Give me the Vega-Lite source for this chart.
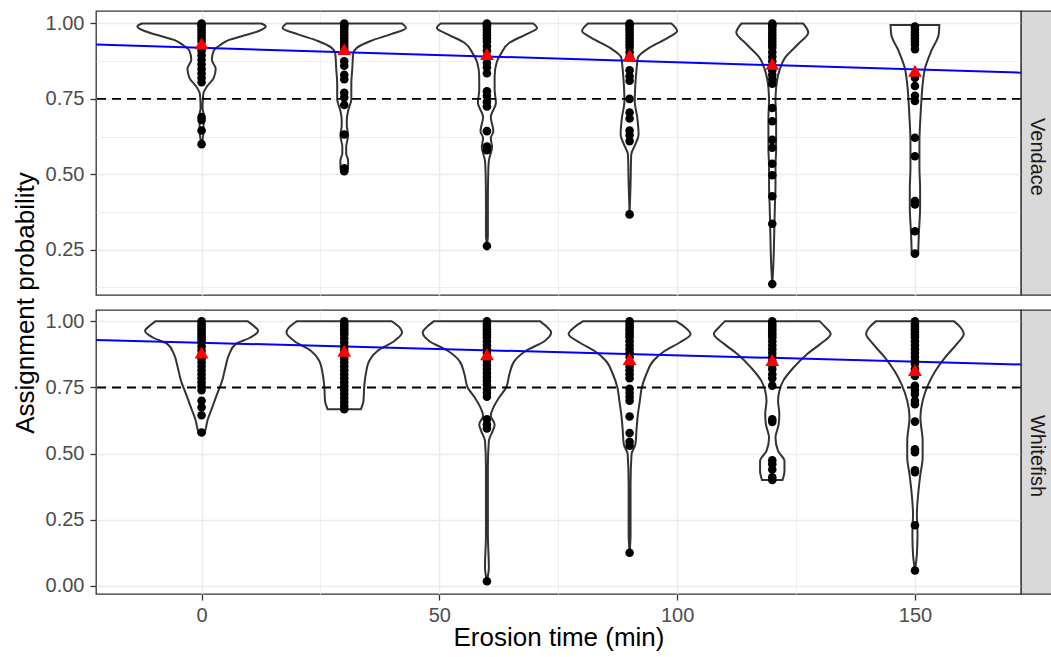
{
"$schema": "https://vega.github.io/schema/vega-lite/v6.json",
"padding": {"left": 11, "top": 10, "right": 0, "bottom": 0},
"config": {
 "font": "Liberation Sans",
 "view": {"stroke": "#333333", "strokeWidth": 1.3},
 "axis": {"domain": false, "gridColor": "#ebebeb", "tickColor": "#333333", "tickSize": 6, "tickWidth": 1.3, "labelColor": "#4d4d4d", "labelFont": "Liberation Sans", "labelFontSize": 20, "titleFont": "Liberation Sans", "titleFontSize": 26, "titleFontWeight": "normal", "titleColor": "#000000", "labelOverlap": false, "labelFlush": false},
 "axisX": {"labelPadding": 5},
 "axisY": {"labelPadding": 6}
},
"datasets": {
 "fit": [{"t": -30, "p": 0.9337}, {"t": 180, "p": 0.8332}],
 "means": [
  {"s":"V","t":0,"p":0.934},{"s":"V","t":30,"p":0.915},{"s":"V","t":60,"p":0.899},{"s":"V","t":90,"p":0.895},{"s":"V","t":120,"p":0.866},{"s":"V","t":150,"p":0.843},
  {"s":"W","t":0,"p":0.882},{"s":"W","t":30,"p":0.889},{"s":"W","t":60,"p":0.876},{"s":"W","t":90,"p":0.858},{"s":"W","t":120,"p":0.854},{"s":"W","t":150,"p":0.816}
 ],
 "vio": [
  {"s":"V","t":0,"p":0.60,"w":0},{"s":"V","t":0,"p":0.63,"w":0.025},{"s":"V","t":0,"p":0.66,"w":0.03},{"s":"V","t":0,"p":0.69,"w":0.04},{"s":"V","t":0,"p":0.72,"w":0.015},{"s":"V","t":0,"p":0.75,"w":0.02},{"s":"V","t":0,"p":0.77,"w":0.03},{"s":"V","t":0,"p":0.79,"w":0.08},{"s":"V","t":0,"p":0.82,"w":0.19},{"s":"V","t":0,"p":0.85,"w":0.22},{"s":"V","t":0,"p":0.88,"w":0.16},{"s":"V","t":0,"p":0.91,"w":0.19},{"s":"V","t":0,"p":0.93,"w":0.30},{"s":"V","t":0,"p":0.945,"w":0.42},{"s":"V","t":0,"p":0.96,"w":0.66},{"s":"V","t":0,"p":0.975,"w":0.89},{"s":"V","t":0,"p":0.99,"w":1.0},{"s":"V","t":0,"p":1.0,"w":0.93},
  {"s":"V","t":30,"p":0.51,"w":0.05},{"s":"V","t":30,"p":0.53,"w":0.06},{"s":"V","t":30,"p":0.545,"w":0.06},{"s":"V","t":30,"p":0.57,"w":0.03},{"s":"V","t":30,"p":0.59,"w":0.03},{"s":"V","t":30,"p":0.63,"w":0.06},{"s":"V","t":30,"p":0.66,"w":0.04},{"s":"V","t":30,"p":0.68,"w":0.04},{"s":"V","t":30,"p":0.71,"w":0.06},{"s":"V","t":30,"p":0.75,"w":0.11},{"s":"V","t":30,"p":0.80,"w":0.11},{"s":"V","t":30,"p":0.85,"w":0.125},{"s":"V","t":30,"p":0.90,"w":0.14},{"s":"V","t":30,"p":0.92,"w":0.2},{"s":"V","t":30,"p":0.942,"w":0.41},{"s":"V","t":30,"p":0.964,"w":0.72},{"s":"V","t":30,"p":0.985,"w":0.96},{"s":"V","t":30,"p":1.0,"w":0.9},
  {"s":"V","t":60,"p":0.262,"w":0},{"s":"V","t":60,"p":0.30,"w":0.015},{"s":"V","t":60,"p":0.41,"w":0.015},{"s":"V","t":60,"p":0.50,"w":0.02},{"s":"V","t":60,"p":0.545,"w":0.03},{"s":"V","t":60,"p":0.59,"w":0.08},{"s":"V","t":60,"p":0.62,"w":0.06},{"s":"V","t":60,"p":0.643,"w":0.1},{"s":"V","t":60,"p":0.69,"w":0.06},{"s":"V","t":60,"p":0.737,"w":0.14},{"s":"V","t":60,"p":0.78,"w":0.12},{"s":"V","t":60,"p":0.825,"w":0.12},{"s":"V","t":60,"p":0.87,"w":0.15},{"s":"V","t":60,"p":0.90,"w":0.22},{"s":"V","t":60,"p":0.936,"w":0.35},{"s":"V","t":60,"p":0.964,"w":0.61},{"s":"V","t":60,"p":0.985,"w":0.78},{"s":"V","t":60,"p":1.0,"w":0.72},
  {"s":"V","t":90,"p":0.367,"w":0},{"s":"V","t":90,"p":0.467,"w":0.015},{"s":"V","t":90,"p":0.565,"w":0.025},{"s":"V","t":90,"p":0.60,"w":0.09},{"s":"V","t":90,"p":0.632,"w":0.14},{"s":"V","t":90,"p":0.687,"w":0.12},{"s":"V","t":90,"p":0.743,"w":0.08},{"s":"V","t":90,"p":0.798,"w":0.09},{"s":"V","t":90,"p":0.853,"w":0.11},{"s":"V","t":90,"p":0.887,"w":0.13},{"s":"V","t":90,"p":0.92,"w":0.31},{"s":"V","t":90,"p":0.953,"w":0.6},{"s":"V","t":90,"p":0.975,"w":0.74},{"s":"V","t":90,"p":1.0,"w":0.65},
  {"s":"V","t":120,"p":0.136,"w":0},{"s":"V","t":120,"p":0.19,"w":0.015},{"s":"V","t":120,"p":0.30,"w":0.03},{"s":"V","t":120,"p":0.39,"w":0.04},{"s":"V","t":120,"p":0.46,"w":0.05},{"s":"V","t":120,"p":0.53,"w":0.05},{"s":"V","t":120,"p":0.58,"w":0.06},{"s":"V","t":120,"p":0.69,"w":0.06},{"s":"V","t":120,"p":0.743,"w":0.05},{"s":"V","t":120,"p":0.787,"w":0.06},{"s":"V","t":120,"p":0.843,"w":0.11},{"s":"V","t":120,"p":0.887,"w":0.2},{"s":"V","t":120,"p":0.931,"w":0.4},{"s":"V","t":120,"p":0.97,"w":0.56},{"s":"V","t":120,"p":1.0,"w":0.48},
  {"s":"V","t":150,"p":0.237,"w":0.05},{"s":"V","t":150,"p":0.30,"w":0.06},{"s":"V","t":150,"p":0.39,"w":0.08},{"s":"V","t":150,"p":0.455,"w":0.08},{"s":"V","t":150,"p":0.52,"w":0.07},{"s":"V","t":150,"p":0.61,"w":0.07},{"s":"V","t":150,"p":0.687,"w":0.085},{"s":"V","t":150,"p":0.743,"w":0.1},{"s":"V","t":150,"p":0.798,"w":0.12},{"s":"V","t":150,"p":0.854,"w":0.16},{"s":"V","t":150,"p":0.909,"w":0.255},{"s":"V","t":150,"p":0.964,"w":0.37},{"s":"V","t":150,"p":0.995,"w":0.38},
  {"s":"W","t":0,"p":0.579,"w":0.05},{"s":"W","t":0,"p":0.60,"w":0.07},{"s":"W","t":0,"p":0.623,"w":0.09},{"s":"W","t":0,"p":0.674,"w":0.165},{"s":"W","t":0,"p":0.724,"w":0.24},{"s":"W","t":0,"p":0.775,"w":0.32},{"s":"W","t":0,"p":0.825,"w":0.37},{"s":"W","t":0,"p":0.876,"w":0.43},{"s":"W","t":0,"p":0.914,"w":0.53},{"s":"W","t":0,"p":0.939,"w":0.76},{"s":"W","t":0,"p":0.964,"w":0.88},{"s":"W","t":0,"p":0.985,"w":0.8},{"s":"W","t":0,"p":1.0,"w":0.72},
  {"s":"W","t":30,"p":0.668,"w":0.26},{"s":"W","t":30,"p":0.70,"w":0.3},{"s":"W","t":30,"p":0.75,"w":0.31},{"s":"W","t":30,"p":0.80,"w":0.335},{"s":"W","t":30,"p":0.851,"w":0.39},{"s":"W","t":30,"p":0.889,"w":0.52},{"s":"W","t":30,"p":0.926,"w":0.78},{"s":"W","t":30,"p":0.958,"w":0.9},{"s":"W","t":30,"p":0.98,"w":0.85},{"s":"W","t":30,"p":1.0,"w":0.74},
  {"s":"W","t":60,"p":0.017,"w":0},{"s":"W","t":60,"p":0.069,"w":0.03},{"s":"W","t":60,"p":0.195,"w":0.015},{"s":"W","t":60,"p":0.447,"w":0.015},{"s":"W","t":60,"p":0.548,"w":0.03},{"s":"W","t":60,"p":0.586,"w":0.09},{"s":"W","t":60,"p":0.61,"w":0.12},{"s":"W","t":60,"p":0.643,"w":0.06},{"s":"W","t":60,"p":0.674,"w":0.1},{"s":"W","t":60,"p":0.712,"w":0.19},{"s":"W","t":60,"p":0.75,"w":0.3},{"s":"W","t":60,"p":0.80,"w":0.35},{"s":"W","t":60,"p":0.851,"w":0.43},{"s":"W","t":60,"p":0.889,"w":0.61},{"s":"W","t":60,"p":0.926,"w":0.9},{"s":"W","t":60,"p":0.958,"w":1.0},{"s":"W","t":60,"p":0.98,"w":0.93},{"s":"W","t":60,"p":1.0,"w":0.83},
  {"s":"W","t":90,"p":0.125,"w":0},{"s":"W","t":90,"p":0.195,"w":0.015},{"s":"W","t":90,"p":0.384,"w":0.015},{"s":"W","t":90,"p":0.498,"w":0.03},{"s":"W","t":90,"p":0.535,"w":0.09},{"s":"W","t":90,"p":0.598,"w":0.11},{"s":"W","t":90,"p":0.649,"w":0.13},{"s":"W","t":90,"p":0.70,"w":0.16},{"s":"W","t":90,"p":0.75,"w":0.19},{"s":"W","t":90,"p":0.80,"w":0.26},{"s":"W","t":90,"p":0.851,"w":0.37},{"s":"W","t":90,"p":0.889,"w":0.55},{"s":"W","t":90,"p":0.92,"w":0.78},{"s":"W","t":90,"p":0.952,"w":0.95},{"s":"W","t":90,"p":0.98,"w":0.85},{"s":"W","t":90,"p":1.0,"w":0.73},
  {"s":"W","t":120,"p":0.40,"w":0.16},{"s":"W","t":120,"p":0.434,"w":0.19},{"s":"W","t":120,"p":0.472,"w":0.19},{"s":"W","t":120,"p":0.51,"w":0.09},{"s":"W","t":120,"p":0.56,"w":0.05},{"s":"W","t":120,"p":0.611,"w":0.1},{"s":"W","t":120,"p":0.649,"w":0.11},{"s":"W","t":120,"p":0.70,"w":0.09},{"s":"W","t":120,"p":0.737,"w":0.11},{"s":"W","t":120,"p":0.775,"w":0.17},{"s":"W","t":120,"p":0.825,"w":0.33},{"s":"W","t":120,"p":0.876,"w":0.54},{"s":"W","t":120,"p":0.914,"w":0.745},{"s":"W","t":120,"p":0.952,"w":0.91},{"s":"W","t":120,"p":0.98,"w":0.82},{"s":"W","t":120,"p":1.0,"w":0.74},
  {"s":"W","t":150,"p":0.058,"w":0},{"s":"W","t":150,"p":0.119,"w":0.03},{"s":"W","t":150,"p":0.195,"w":0.04},{"s":"W","t":150,"p":0.27,"w":0.03},{"s":"W","t":150,"p":0.346,"w":0.05},{"s":"W","t":150,"p":0.422,"w":0.085},{"s":"W","t":150,"p":0.485,"w":0.12},{"s":"W","t":150,"p":0.548,"w":0.12},{"s":"W","t":150,"p":0.636,"w":0.085},{"s":"W","t":150,"p":0.70,"w":0.12},{"s":"W","t":150,"p":0.763,"w":0.21},{"s":"W","t":150,"p":0.813,"w":0.32},{"s":"W","t":150,"p":0.864,"w":0.47},{"s":"W","t":150,"p":0.914,"w":0.65},{"s":"W","t":150,"p":0.952,"w":0.76},{"s":"W","t":150,"p":0.98,"w":0.7},{"s":"W","t":150,"p":1.0,"w":0.61}
 ],
 "pts": [
  {"s":"V","t":0,"p":1.0},{"s":"V","t":0,"p":0.995},{"s":"V","t":0,"p":0.99},{"s":"V","t":0,"p":0.98},{"s":"V","t":0,"p":0.97},{"s":"V","t":0,"p":0.96},{"s":"V","t":0,"p":0.95},{"s":"V","t":0,"p":0.94},{"s":"V","t":0,"p":0.925},{"s":"V","t":0,"p":0.91},{"s":"V","t":0,"p":0.895},{"s":"V","t":0,"p":0.88},{"s":"V","t":0,"p":0.865},{"s":"V","t":0,"p":0.85},{"s":"V","t":0,"p":0.835},{"s":"V","t":0,"p":0.82},{"s":"V","t":0,"p":0.805},{"s":"V","t":0,"p":0.69},{"s":"V","t":0,"p":0.68},{"s":"V","t":0,"p":0.645},{"s":"V","t":0,"p":0.60},
  {"s":"V","t":30,"p":1.0},{"s":"V","t":30,"p":0.995},{"s":"V","t":30,"p":0.99},{"s":"V","t":30,"p":0.98},{"s":"V","t":30,"p":0.97},{"s":"V","t":30,"p":0.96},{"s":"V","t":30,"p":0.95},{"s":"V","t":30,"p":0.94},{"s":"V","t":30,"p":0.93},{"s":"V","t":30,"p":0.92},{"s":"V","t":30,"p":0.91},{"s":"V","t":30,"p":0.875},{"s":"V","t":30,"p":0.86},{"s":"V","t":30,"p":0.83},{"s":"V","t":30,"p":0.815},{"s":"V","t":30,"p":0.77},{"s":"V","t":30,"p":0.755},{"s":"V","t":30,"p":0.73},{"s":"V","t":30,"p":0.632},{"s":"V","t":30,"p":0.52},{"s":"V","t":30,"p":0.51},
  {"s":"V","t":60,"p":1.0},{"s":"V","t":60,"p":0.995},{"s":"V","t":60,"p":0.99},{"s":"V","t":60,"p":0.98},{"s":"V","t":60,"p":0.97},{"s":"V","t":60,"p":0.96},{"s":"V","t":60,"p":0.95},{"s":"V","t":60,"p":0.94},{"s":"V","t":60,"p":0.925},{"s":"V","t":60,"p":0.91},{"s":"V","t":60,"p":0.89},{"s":"V","t":60,"p":0.87},{"s":"V","t":60,"p":0.855},{"s":"V","t":60,"p":0.835},{"s":"V","t":60,"p":0.775},{"s":"V","t":60,"p":0.76},{"s":"V","t":60,"p":0.74},{"s":"V","t":60,"p":0.725},{"s":"V","t":60,"p":0.643},{"s":"V","t":60,"p":0.592},{"s":"V","t":60,"p":0.58},{"s":"V","t":60,"p":0.262},
  {"s":"V","t":90,"p":1.0},{"s":"V","t":90,"p":0.995},{"s":"V","t":90,"p":0.99},{"s":"V","t":90,"p":0.98},{"s":"V","t":90,"p":0.97},{"s":"V","t":90,"p":0.96},{"s":"V","t":90,"p":0.95},{"s":"V","t":90,"p":0.94},{"s":"V","t":90,"p":0.93},{"s":"V","t":90,"p":0.92},{"s":"V","t":90,"p":0.905},{"s":"V","t":90,"p":0.89},{"s":"V","t":90,"p":0.845},{"s":"V","t":90,"p":0.825},{"s":"V","t":90,"p":0.81},{"s":"V","t":90,"p":0.75},{"s":"V","t":90,"p":0.705},{"s":"V","t":90,"p":0.685},{"s":"V","t":90,"p":0.645},{"s":"V","t":90,"p":0.63},{"s":"V","t":90,"p":0.61},{"s":"V","t":90,"p":0.367},
  {"s":"V","t":120,"p":1.0},{"s":"V","t":120,"p":0.995},{"s":"V","t":120,"p":0.99},{"s":"V","t":120,"p":0.98},{"s":"V","t":120,"p":0.97},{"s":"V","t":120,"p":0.96},{"s":"V","t":120,"p":0.95},{"s":"V","t":120,"p":0.94},{"s":"V","t":120,"p":0.93},{"s":"V","t":120,"p":0.92},{"s":"V","t":120,"p":0.905},{"s":"V","t":120,"p":0.89},{"s":"V","t":120,"p":0.875},{"s":"V","t":120,"p":0.86},{"s":"V","t":120,"p":0.845},{"s":"V","t":120,"p":0.83},{"s":"V","t":120,"p":0.815},{"s":"V","t":120,"p":0.80},{"s":"V","t":120,"p":0.72},{"s":"V","t":120,"p":0.676},{"s":"V","t":120,"p":0.614},{"s":"V","t":120,"p":0.588},{"s":"V","t":120,"p":0.535},{"s":"V","t":120,"p":0.497},{"s":"V","t":120,"p":0.427},{"s":"V","t":120,"p":0.336},{"s":"V","t":120,"p":0.136},
  {"s":"V","t":150,"p":0.99},{"s":"V","t":150,"p":0.98},{"s":"V","t":150,"p":0.97},{"s":"V","t":150,"p":0.96},{"s":"V","t":150,"p":0.95},{"s":"V","t":150,"p":0.94},{"s":"V","t":150,"p":0.93},{"s":"V","t":150,"p":0.915},{"s":"V","t":150,"p":0.82},{"s":"V","t":150,"p":0.793},{"s":"V","t":150,"p":0.76},{"s":"V","t":150,"p":0.743},{"s":"V","t":150,"p":0.621},{"s":"V","t":150,"p":0.56},{"s":"V","t":150,"p":0.411},{"s":"V","t":150,"p":0.40},{"s":"V","t":150,"p":0.311},{"s":"V","t":150,"p":0.237},
  {"s":"W","t":0,"p":1.0},{"s":"W","t":0,"p":0.99},{"s":"W","t":0,"p":0.98},{"s":"W","t":0,"p":0.97},{"s":"W","t":0,"p":0.96},{"s":"W","t":0,"p":0.95},{"s":"W","t":0,"p":0.94},{"s":"W","t":0,"p":0.93},{"s":"W","t":0,"p":0.92},{"s":"W","t":0,"p":0.905},{"s":"W","t":0,"p":0.89},{"s":"W","t":0,"p":0.875},{"s":"W","t":0,"p":0.86},{"s":"W","t":0,"p":0.845},{"s":"W","t":0,"p":0.83},{"s":"W","t":0,"p":0.815},{"s":"W","t":0,"p":0.80},{"s":"W","t":0,"p":0.785},{"s":"W","t":0,"p":0.77},{"s":"W","t":0,"p":0.755},{"s":"W","t":0,"p":0.74},{"s":"W","t":0,"p":0.70},{"s":"W","t":0,"p":0.675},{"s":"W","t":0,"p":0.645},{"s":"W","t":0,"p":0.58},
  {"s":"W","t":30,"p":1.0},{"s":"W","t":30,"p":0.99},{"s":"W","t":30,"p":0.98},{"s":"W","t":30,"p":0.97},{"s":"W","t":30,"p":0.96},{"s":"W","t":30,"p":0.95},{"s":"W","t":30,"p":0.935},{"s":"W","t":30,"p":0.92},{"s":"W","t":30,"p":0.905},{"s":"W","t":30,"p":0.89},{"s":"W","t":30,"p":0.875},{"s":"W","t":30,"p":0.86},{"s":"W","t":30,"p":0.845},{"s":"W","t":30,"p":0.83},{"s":"W","t":30,"p":0.815},{"s":"W","t":30,"p":0.80},{"s":"W","t":30,"p":0.785},{"s":"W","t":30,"p":0.77},{"s":"W","t":30,"p":0.755},{"s":"W","t":30,"p":0.74},{"s":"W","t":30,"p":0.725},{"s":"W","t":30,"p":0.71},{"s":"W","t":30,"p":0.695},{"s":"W","t":30,"p":0.68},{"s":"W","t":30,"p":0.668},
  {"s":"W","t":60,"p":1.0},{"s":"W","t":60,"p":0.99},{"s":"W","t":60,"p":0.98},{"s":"W","t":60,"p":0.97},{"s":"W","t":60,"p":0.96},{"s":"W","t":60,"p":0.95},{"s":"W","t":60,"p":0.94},{"s":"W","t":60,"p":0.925},{"s":"W","t":60,"p":0.91},{"s":"W","t":60,"p":0.895},{"s":"W","t":60,"p":0.88},{"s":"W","t":60,"p":0.865},{"s":"W","t":60,"p":0.85},{"s":"W","t":60,"p":0.835},{"s":"W","t":60,"p":0.82},{"s":"W","t":60,"p":0.805},{"s":"W","t":60,"p":0.79},{"s":"W","t":60,"p":0.775},{"s":"W","t":60,"p":0.76},{"s":"W","t":60,"p":0.745},{"s":"W","t":60,"p":0.73},{"s":"W","t":60,"p":0.715},{"s":"W","t":60,"p":0.63},{"s":"W","t":60,"p":0.61},{"s":"W","t":60,"p":0.595},{"s":"W","t":60,"p":0.017},
  {"s":"W","t":90,"p":1.0},{"s":"W","t":90,"p":0.99},{"s":"W","t":90,"p":0.98},{"s":"W","t":90,"p":0.97},{"s":"W","t":90,"p":0.96},{"s":"W","t":90,"p":0.95},{"s":"W","t":90,"p":0.94},{"s":"W","t":90,"p":0.925},{"s":"W","t":90,"p":0.91},{"s":"W","t":90,"p":0.895},{"s":"W","t":90,"p":0.88},{"s":"W","t":90,"p":0.865},{"s":"W","t":90,"p":0.83},{"s":"W","t":90,"p":0.815},{"s":"W","t":90,"p":0.80},{"s":"W","t":90,"p":0.785},{"s":"W","t":90,"p":0.745},{"s":"W","t":90,"p":0.73},{"s":"W","t":90,"p":0.715},{"s":"W","t":90,"p":0.70},{"s":"W","t":90,"p":0.64},{"s":"W","t":90,"p":0.578},{"s":"W","t":90,"p":0.545},{"s":"W","t":90,"p":0.53},{"s":"W","t":90,"p":0.125},
  {"s":"W","t":120,"p":1.0},{"s":"W","t":120,"p":0.99},{"s":"W","t":120,"p":0.98},{"s":"W","t":120,"p":0.97},{"s":"W","t":120,"p":0.96},{"s":"W","t":120,"p":0.95},{"s":"W","t":120,"p":0.94},{"s":"W","t":120,"p":0.925},{"s":"W","t":120,"p":0.91},{"s":"W","t":120,"p":0.895},{"s":"W","t":120,"p":0.88},{"s":"W","t":120,"p":0.865},{"s":"W","t":120,"p":0.85},{"s":"W","t":120,"p":0.835},{"s":"W","t":120,"p":0.82},{"s":"W","t":120,"p":0.80},{"s":"W","t":120,"p":0.785},{"s":"W","t":120,"p":0.757},{"s":"W","t":120,"p":0.63},{"s":"W","t":120,"p":0.62},{"s":"W","t":120,"p":0.475},{"s":"W","t":120,"p":0.46},{"s":"W","t":120,"p":0.44},{"s":"W","t":120,"p":0.41},{"s":"W","t":120,"p":0.40},
  {"s":"W","t":150,"p":1.0},{"s":"W","t":150,"p":0.99},{"s":"W","t":150,"p":0.98},{"s":"W","t":150,"p":0.97},{"s":"W","t":150,"p":0.96},{"s":"W","t":150,"p":0.95},{"s":"W","t":150,"p":0.94},{"s":"W","t":150,"p":0.925},{"s":"W","t":150,"p":0.91},{"s":"W","t":150,"p":0.895},{"s":"W","t":150,"p":0.88},{"s":"W","t":150,"p":0.865},{"s":"W","t":150,"p":0.85},{"s":"W","t":150,"p":0.84},{"s":"W","t":150,"p":0.82},{"s":"W","t":150,"p":0.794},{"s":"W","t":150,"p":0.756},{"s":"W","t":150,"p":0.74},{"s":"W","t":150,"p":0.725},{"s":"W","t":150,"p":0.70},{"s":"W","t":150,"p":0.687},{"s":"W","t":150,"p":0.621},{"s":"W","t":150,"p":0.516},{"s":"W","t":150,"p":0.505},{"s":"W","t":150,"p":0.437},{"s":"W","t":150,"p":0.43},{"s":"W","t":150,"p":0.229},{"s":"W","t":150,"p":0.058}
 ]
},
"columns": 2,
"spacing": {"row": 15, "column": 0},
"bounds": "flush",
"concat": [
 {
  "width": 925, "height": 284,
  "layer": [
   {
    "data": {"name": "vio"},
    "transform": [{"filter": "datum.s === 'V'"}, {"calculate": "datum.t - 13.5 * datum.w", "as": "lo"}, {"calculate": "datum.t + 13.5 * datum.w", "as": "hi"}],
    "mark": {"type": "area", "orient": "horizontal", "interpolate": "monotone", "fill": "#ffffff", "fillOpacity": 1, "stroke": "#333333", "strokeWidth": 2},
    "encoding": {
     "y": {"field": "p", "type": "quantitative", "scale": {"domain": [0.0998, 1.0414], "nice": false, "zero": false},
      "axis": {"values": [0.125, 0.25, 0.375, 0.5, 0.625, 0.75, 0.875, 1.0], "title": "Assignment probability", "titleX": -63, "titleY": 291.5, "titleAngle": 270, "titleAlign": "center", "titleBaseline": "alphabetic",
       "labelExpr": "abs(datum.value*4 - round(datum.value*4)) < 0.01 ? format(datum.value, '.2f') : ''",
       "gridWidth": {"condition": {"test": "abs(datum.value*4 - round(datum.value*4)) < 0.01", "value": 1.5}, "value": 0.8},
       "tickOpacity": {"condition": {"test": "abs(datum.value*4 - round(datum.value*4)) < 0.01", "value": 1}, "value": 0}}},
     "x": {"field": "lo", "type": "quantitative", "stack": null, "scale": {"domain": [-22.2, 172.3], "nice": false, "zero": false},
      "axis": {"values": [0, 25, 50, 75, 100, 125, 150], "labels": false, "ticks": false, "title": null,
       "gridWidth": {"condition": {"test": "datum.value % 50 === 0", "value": 1.5}, "value": 0.8}}},
     "x2": {"field": "hi"},
     "detail": {"field": "t", "type": "quantitative"}
    }
   },
   {
    "data": {"values": [{"p": 0.75}]},
    "mark": {"type": "rule", "strokeDash": [9, 6], "color": "#000000", "strokeWidth": 1.8},
    "encoding": {"y": {"field": "p", "type": "quantitative"}}
   },
   {
    "data": {"name": "fit"},
    "mark": {"type": "line", "color": "#0000ff", "strokeWidth": 2, "clip": true},
    "encoding": {"x": {"field": "t", "type": "quantitative"}, "y": {"field": "p", "type": "quantitative"}}
   },
   {
    "data": {"name": "pts"},
    "transform": [{"filter": "datum.s === 'V'"}],
    "mark": {"type": "circle", "size": 74, "color": "#000000", "opacity": 1},
    "encoding": {"x": {"field": "t", "type": "quantitative"}, "y": {"field": "p", "type": "quantitative"}}
   },
   {
    "data": {"name": "means"},
    "transform": [{"filter": "datum.s === 'V'"}],
    "mark": {"type": "point", "shape": "triangle-up", "filled": true, "size": 190, "color": "#ff0000", "opacity": 1, "strokeWidth": 0},
    "encoding": {"x": {"field": "t", "type": "quantitative"}, "y": {"field": "p", "type": "quantitative"}}
   }
  ]
 },
 {
  "width": 31, "height": 284,
  "view": {"fill": "#d9d9d9", "stroke": "#333333", "strokeWidth": 1.3},
  "data": {"values": [{"s": "Vendace"}]},
  "mark": {"type": "text", "angle": 90, "fontSize": 20, "color": "#1a1a1a", "dx": 4, "align": "center", "baseline": "middle", "font": "Liberation Sans"},
  "encoding": {"text": {"field": "s", "type": "nominal"}}
 },
 {
  "width": 925, "height": 284,
  "layer": [
   {
    "data": {"name": "vio"},
    "transform": [{"filter": "datum.s === 'W'"}, {"calculate": "datum.t - 13.5 * datum.w", "as": "lo"}, {"calculate": "datum.t + 13.5 * datum.w", "as": "hi"}],
    "mark": {"type": "area", "orient": "horizontal", "interpolate": "monotone", "fill": "#ffffff", "fillOpacity": 1, "stroke": "#333333", "strokeWidth": 2},
    "encoding": {
     "y": {"field": "p", "type": "quantitative", "scale": {"domain": [-0.031, 1.043], "nice": false, "zero": false},
      "axis": {"values": [0, 0.125, 0.25, 0.375, 0.5, 0.625, 0.75, 0.875, 1.0], "title": null,
       "labelExpr": "abs(datum.value*4 - round(datum.value*4)) < 0.01 ? format(datum.value, '.2f') : ''",
       "gridWidth": {"condition": {"test": "abs(datum.value*4 - round(datum.value*4)) < 0.01", "value": 1.5}, "value": 0.8},
       "tickOpacity": {"condition": {"test": "abs(datum.value*4 - round(datum.value*4)) < 0.01", "value": 1}, "value": 0}}},
     "x": {"field": "lo", "type": "quantitative", "stack": null, "scale": {"domain": [-22.2, 172.3], "nice": false, "zero": false},
      "axis": {"values": [0, 25, 50, 75, 100, 125, 150], "title": "Erosion time (min)", "titlePadding": -1,
       "labelExpr": "datum.value % 50 === 0 ? datum.label : ''",
       "gridWidth": {"condition": {"test": "datum.value % 50 === 0", "value": 1.5}, "value": 0.8},
       "tickOpacity": {"condition": {"test": "datum.value % 50 === 0", "value": 1}, "value": 0}}},
     "x2": {"field": "hi"},
     "detail": {"field": "t", "type": "quantitative"}
    }
   },
   {
    "data": {"values": [{"p": 0.75}]},
    "mark": {"type": "rule", "strokeDash": [9, 6], "color": "#000000", "strokeWidth": 1.8},
    "encoding": {"y": {"field": "p", "type": "quantitative"}}
   },
   {
    "data": {"name": "fit"},
    "mark": {"type": "line", "color": "#0000ff", "strokeWidth": 2, "clip": true},
    "encoding": {"x": {"field": "t", "type": "quantitative"}, "y": {"field": "p", "type": "quantitative"}}
   },
   {
    "data": {"name": "pts"},
    "transform": [{"filter": "datum.s === 'W'"}],
    "mark": {"type": "circle", "size": 74, "color": "#000000", "opacity": 1},
    "encoding": {"x": {"field": "t", "type": "quantitative"}, "y": {"field": "p", "type": "quantitative"}}
   },
   {
    "data": {"name": "means"},
    "transform": [{"filter": "datum.s === 'W'"}],
    "mark": {"type": "point", "shape": "triangle-up", "filled": true, "size": 190, "color": "#ff0000", "opacity": 1, "strokeWidth": 0},
    "encoding": {"x": {"field": "t", "type": "quantitative"}, "y": {"field": "p", "type": "quantitative"}}
   }
  ]
 },
 {
  "width": 31, "height": 284,
  "view": {"fill": "#d9d9d9", "stroke": "#333333", "strokeWidth": 1.3},
  "data": {"values": [{"s": "Whitefish"}]},
  "mark": {"type": "text", "angle": 90, "fontSize": 20, "color": "#1a1a1a", "dx": 4, "align": "center", "baseline": "middle", "font": "Liberation Sans"},
  "encoding": {"text": {"field": "s", "type": "nominal"}}
 }
]
}
